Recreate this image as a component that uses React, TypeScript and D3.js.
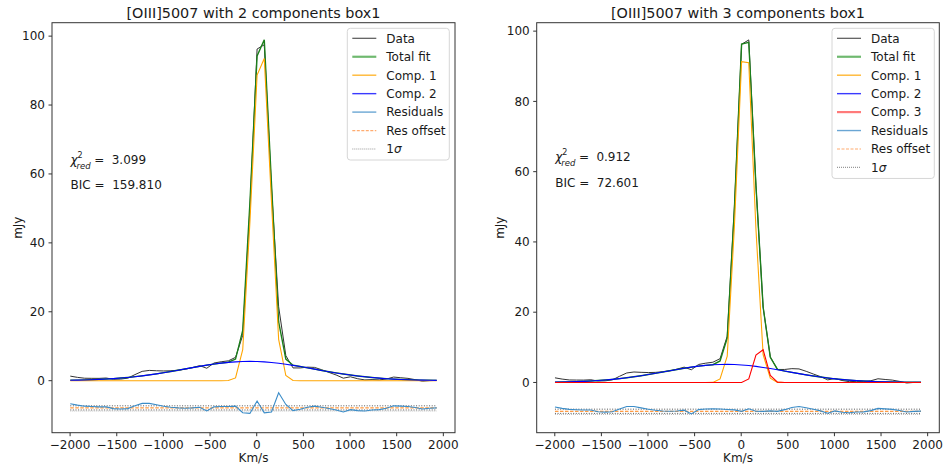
import React from 'react';
import * as d3 from 'd3';

// ---------------- DATA ----------------
const velocity = [
  -1998, -1921, -1844, -1767, -1690, -1613, -1536, -1459, -1382, -1305,
  -1228, -1151, -1074, -997, -920, -843, -766, -689, -612, -535,
  -458, -381, -304, -227, -150, -73, 4, 81, 158, 235,
  312, 389, 466, 543, 620, 697, 774, 851, 928, 1005,
  1082, 1159, 1236, 1313, 1390, 1467, 1544, 1621, 1698, 1775,
  1852, 1929,
];

const flux = [
  1.32, 0.96, 0.71, 0.68, 0.67, 0.77, 0.40, 0.46, 0.74, 1.76,
  2.70, 2.98, 2.88, 2.82, 2.87, 3.04, 3.32, 3.79, 4.36, 3.61,
  5.12, 5.49, 5.76, 6.77, 13.17, 50.0, 96.26, 97.5, 56.08, 21.45,
  7.27, 3.70, 3.70, 3.93, 3.85, 3.17, 2.40, 1.65, 0.73, 1.13,
  0.56, 0.22, 0.31, 0.23, 0.48, 1.05, 0.85, 0.67, 0.30, -0.15,
  0.01, 0.08,
];

// 2-component fit
const comp1Two = [
  0, 0, 0, 0, 0, 0, 0, 0, 0, 0,
  0, 0, 0, 0, 0, 0, 0, 0, 0, 0,
  0, 0, 0.05, 0.8, 9, 46, 88.7, 93.5, 52, 12,
  1.5, 0.05, 0, 0, 0, 0, 0, 0, 0, 0,
  0, 0, 0, 0, 0, 0, 0, 0, 0, 0,
  0, 0,
];
const comp2Two = [
  0.12, 0.16, 0.21, 0.28, 0.37, 0.47, 0.60, 0.76, 0.94, 1.16,
  1.40, 1.68, 1.98, 2.32, 2.67, 3.04, 3.42, 3.79, 4.16, 4.51,
  4.82, 5.09, 5.31, 5.47, 5.57, 5.60, 5.56, 5.45, 5.28, 5.05,
  4.77, 4.45, 4.10, 3.73, 3.35, 2.97, 2.60, 2.25, 1.93, 1.63,
  1.36, 1.12, 0.91, 0.73, 0.58, 0.45, 0.35, 0.27, 0.20, 0.15,
  0.11, 0.08,
];

// 3-component fit
const comp1Three = [
  0, 0, 0, 0, 0, 0, 0, 0, 0, 0,
  0, 0, 0, 0, 0, 0, 0, 0, 0, 0,
  0, 0, 0.02, 1.0, 7.5, 44.5, 91.3, 91.0, 43.7, 7.9,
  1.2, 0.02, 0, 0, 0, 0, 0, 0, 0, 0,
  0, 0, 0, 0, 0, 0, 0, 0, 0, 0,
  0, 0,
];
const comp2Three = [
  0.09, 0.13, 0.18, 0.24, 0.32, 0.42, 0.55, 0.70, 0.88, 1.09,
  1.34, 1.61, 1.92, 2.25, 2.60, 2.97, 3.33, 3.70, 4.04, 4.36,
  4.64, 4.86, 5.03, 5.12, 5.15, 5.10, 4.99, 4.81, 4.57, 4.28,
  3.96, 3.61, 3.24, 2.87, 2.51, 2.16, 1.83, 1.54, 1.27, 1.03,
  0.83, 0.66, 0.51, 0.40, 0.30, 0.22, 0.17, 0.12, 0.09, 0.06,
  0.04, 0.03,
];
const comp3Three = [
  0, 0, 0, 0, 0, 0, 0, 0, 0, 0,
  0, 0, 0, 0, 0, 0, 0, 0, 0, 0,
  0, 0, 0, 0, 0, 0, 0, 1.0, 7.8, 9.3,
  2.0, 0.1, 0, 0, 0, 0, 0, 0, 0, 0,
  0, 0, 0, 0, 0, 0, 0, 0, 0, 0,
  0, 0,
];

const xTicks = [-2000, -1500, -1000, -500, 0, 500, 1000, 1500, 2000];
const yTicks = [0, 20, 40, 60, 80, 100];

const titles = ['[OIII]5007 with 2 components box1', '[OIII]5007 with 3 components box1'];
const chiValues = ['3.099', '0.912'];
const bicValues = ['159.810', '72.601'];
const resOffsets = [-7.9, -8.2];
const sigmas = [0.6, 0.6];
const yDomains: [number, number][] = [[-15.1, 103.9], [-14.3, 102.4]];
const xDomain: [number, number] = [-2194, 2125];

// ---------------- STYLE ----------------
const FONT = 'DejaVu Sans, sans-serif';
const COLORS = {
  data: '#333333',
  total: '#1c7f1c',
  comp1: '#ffa500',
  comp2: '#0000ff',
  comp3: '#ff0000',
  resid: '#3a8cc8',
  offset: '#ff7f0e',
  sigma: '#555555',
};

type Comp = { label: string; color: string; values: number[] };

type PanelProps = {
  left: number;
  right: number;
  top: number;
  bottom: number;
  title: string;
  comps: Comp[];
  yDomain: [number, number];
  offset: number;
  sigma: number;
  chi: string;
  bic: string;
  chiY: number;
  bicY: number;
  legendLeft: number;
  legendWidth: number;
  ylabelX: number;
};

function fmt(v: number) {
  return v < 0 ? '\u2212' + Math.abs(v) : String(v);
}

function Panel(p: PanelProps) {
  const x = d3.scaleLinear().domain(xDomain).range([p.left, p.right]);
  const y = d3.scaleLinear().domain(p.yDomain).range([p.bottom, p.top]);
  const total = velocity.map((_, i) => p.comps.reduce((s, c) => s + c.values[i], 0));
  const resid = flux.map((f, i) => f - total[i] + p.offset);
  const line = d3
    .line<number>()
    .x((_, i) => x(velocity[i]))
    .y((d) => y(d));
  const hline = (v: number) =>
    d3.line<number>().x((d) => x(d)).y(() => y(v))([velocity[0], velocity[velocity.length - 1]]) || '';
  const clipId = 'clip' + Math.round(p.left);

  const legendItems: { label: React.ReactNode; color: string; width: number; dash?: string }[] = [
    { label: 'Data', color: '#555', width: 1.2 },
    { label: 'Total fit', color: '#6fb96f', width: 2.2 },
    ...p.comps.map((c) => ({
      label: c.label,
      color: c.color === COLORS.comp1 ? '#ffb733' : c.color === COLORS.comp2 ? '#3a3aff' : '#ff7a7a',
      width: c.color === COLORS.comp3 ? 2.2 : 1.4,
    })),
    { label: 'Residuals', color: '#6aa6d4', width: 1.4 },
    { label: 'Res offset', color: '#ffac70', width: 1.2, dash: '3,1.5' },
    {
      label: (
        <>
          1<tspan fontStyle="italic">σ</tspan>
        </>
      ),
      color: '#999',
      width: 1.2,
      dash: '1,1',
    },
  ];
  const legTop = 28.3;
  const rowH = 18.45;
  const legH = 10 + (legendItems.length - 1) * rowH + 11;

  const cx = (p.left + p.right) / 2;
  const cy = (p.top + p.bottom) / 2;

  return (
    <g fontFamily={FONT}>
      <defs>
        <clipPath id={clipId}>
          <rect x={p.left} y={p.top} width={p.right - p.left} height={p.bottom - p.top} />
        </clipPath>
      </defs>
      <g clipPath={`url(#${clipId})`} fill="none">
        {/* 1 sigma lines */}
        <path d={hline(p.offset + p.sigma)} stroke={COLORS.sigma} strokeWidth={1} strokeDasharray="1,1.6" />
        <path d={hline(p.offset - p.sigma)} stroke={COLORS.sigma} strokeWidth={1} strokeDasharray="1,1.6" />
        <path d={hline(p.offset - p.sigma - 0.3)} stroke="#bbb" strokeWidth={1} strokeDasharray="1,1" />
        <path d={hline(p.offset)} stroke={COLORS.offset} strokeWidth={1} strokeDasharray="3.5,1.5" />
        <path d={line(resid) || ''} stroke={COLORS.resid} strokeWidth={1.1} />
        <path d={line(flux) || ''} stroke={COLORS.data} strokeWidth={1} />
        <path d={line(total) || ''} stroke={COLORS.total} strokeWidth={1.4} />
        {p.comps.map((c) => (
          <path key={c.label} d={line(c.values) || ''} stroke={c.color} strokeWidth={1.1} />
        ))}
      </g>
      {/* spines */}
      <rect
        x={p.left}
        y={p.top}
        width={p.right - p.left}
        height={p.bottom - p.top}
        fill="none"
        stroke="#333"
        strokeWidth={1}
      />
      {/* x ticks */}
      {xTicks.map((t) => (
        <g key={t}>
          <line x1={x(t)} x2={x(t)} y1={p.bottom} y2={p.bottom + 3.5} stroke="#333" />
          <text x={x(t)} y={p.bottom + 16} fontSize={12} textAnchor="middle" fill="#1a1a1a">
            {fmt(t)}
          </text>
        </g>
      ))}
      {/* y ticks */}
      {yTicks.map((t) => (
        <g key={t}>
          <line x1={p.left - 3.5} x2={p.left} y1={y(t)} y2={y(t)} stroke="#333" />
          <text x={p.left - 7} y={y(t) + 4.3} fontSize={12} textAnchor="end" fill="#1a1a1a">
            {t}
          </text>
        </g>
      ))}
      {/* labels */}
      <text x={cx} y={462} fontSize={12} textAnchor="middle" fill="#1a1a1a">
        Km/s
      </text>
      <text
        transform={`translate(${p.ylabelX},${cy}) rotate(-90)`}
        fontSize={12}
        textAnchor="middle"
        fill="#1a1a1a"
      >
        mJy
      </text>
      <text x={cx} y={18} fontSize={14.4} textAnchor="middle" fill="#1a1a1a">
        {p.title}
      </text>
      {/* statistics: χ²_red with stacked super/subscript */}
      <text y={p.chiY} fontSize={12} fill="#1a1a1a">
        <tspan x={p.left + 18.5} fontStyle="italic">χ</tspan>
        <tspan x={p.left + 25.5} dy={-6.5} fontSize={8}>2</tspan>
        <tspan x={p.left + 24.5} dy={11.5} fontSize={8.5} fontStyle="italic">red</tspan>
        <tspan x={p.left + 42.3} dy={-5}>=</tspan>
        <tspan x={p.left + 59.7}>{p.chi}</tspan>
      </text>
      <text x={p.left + 18.5} y={p.bicY} fontSize={12} fill="#1a1a1a" xmlSpace="preserve">
        {`BIC =  ${p.bic}`}
      </text>
      {/* legend */}
      <rect
        x={p.legendLeft}
        y={legTop}
        width={p.legendWidth}
        height={legH}
        rx={3}
        fill="white"
        fillOpacity={0.8}
        stroke="#d6d6d6"
      />
      {legendItems.map((it, i) => {
        const yy = legTop + 10 + i * rowH;
        return (
          <g key={i}>
            <line
              x1={p.legendLeft + 5}
              x2={p.legendLeft + 29}
              y1={yy}
              y2={yy}
              stroke={it.color}
              strokeWidth={it.width}
              strokeDasharray={it.dash}
            />
            <text x={p.legendLeft + 39} y={yy + 4.3} fontSize={12} fill="#1a1a1a">
              {it.label}
            </text>
          </g>
        );
      })}
    </g>
  );
}

export default function App() {
  return (
    <svg
      width={944}
      height={468}
      viewBox="0 0 944 468"
      style={{ position: 'absolute', left: 0, top: 0, background: 'white' }}
    >
      <rect width={944} height={468} fill="white" />
      <Panel
        left={52}
        right={455}
        top={22.7}
        bottom={432.7}
        title={titles[0]}
        comps={[
          { label: 'Comp. 1', color: COLORS.comp1, values: comp1Two },
          { label: 'Comp. 2', color: COLORS.comp2, values: comp2Two },
        ]}
        yDomain={yDomains[0]}
        offset={resOffsets[0]}
        sigma={sigmas[0]}
        chi={chiValues[0]}
        bic={bicValues[0]}
        chiY={164}
        bicY={189}
        legendLeft={347.3}
        legendWidth={102}
        ylabelX={22}
      />
      <Panel
        left={536.7}
        right={939.3}
        top={22.7}
        bottom={432.7}
        title={titles[1]}
        comps={[
          { label: 'Comp. 1', color: COLORS.comp1, values: comp1Three },
          { label: 'Comp. 2', color: COLORS.comp2, values: comp2Three },
          { label: 'Comp. 3', color: COLORS.comp3, values: comp3Three },
        ]}
        yDomain={yDomains[1]}
        offset={resOffsets[1]}
        sigma={sigmas[1]}
        chi={chiValues[1]}
        bic={bicValues[1]}
        chiY={161}
        bicY={187}
        legendLeft={832}
        legendWidth={102.3}
        ylabelX={504}
      />
    </svg>
  );
}
